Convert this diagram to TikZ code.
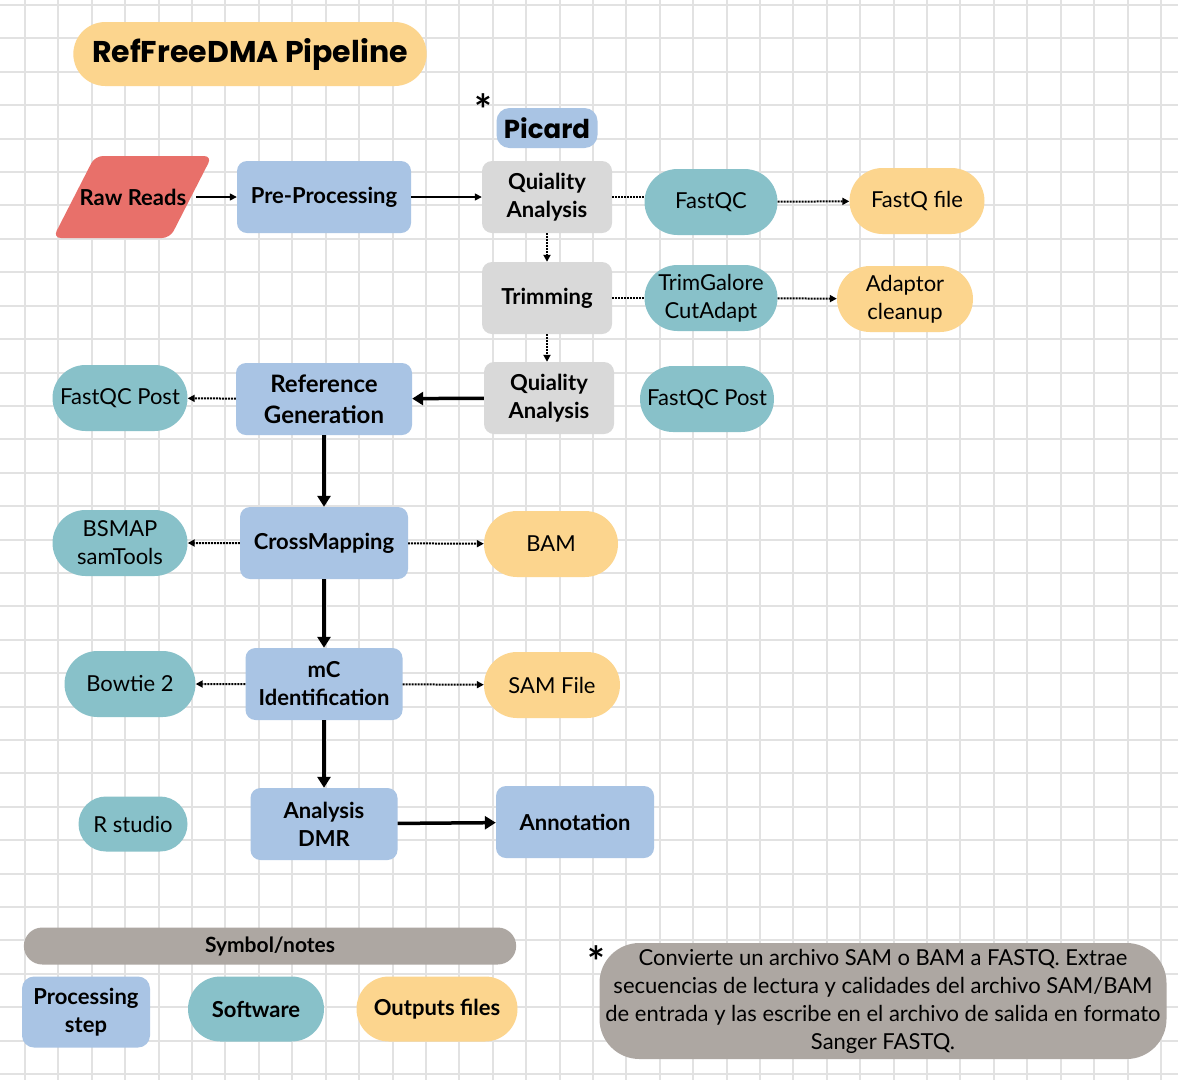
\documentclass[tikz,border=0pt]{standalone}
\usepackage{fontspec}
\setmainfont{Lato}
\newfontfamily\titlefont{Poppins}
\usetikzlibrary{shapes.misc,arrows.meta}

\definecolor{procblue}{HTML}{A9C4E4}
\definecolor{qcgray}{HTML}{D9D9D9}
\definecolor{softteal}{HTML}{88C1C9}
\definecolor{outyellow}{HTML}{FCD58E}
\definecolor{rawred}{HTML}{E8706A}
\definecolor{notegray}{HTML}{ADA7A2}
\definecolor{gridgray}{HTML}{E2E2E2}

\begin{document}
\begin{tikzpicture}[x=1pt,y=-1pt,
    procbox/.style={fill=procblue, rounded corners=10pt, inner sep=0pt, align=center,
        minimum height=72pt, font=\fontsize{22}{28}\selectfont\bfseries},
    qcbox/.style={procbox, fill=qcgray},
    softpill/.style={rounded rectangle, fill=softteal, inner sep=0pt, align=center,
        minimum height=66pt, font=\fontsize{22}{28}\selectfont},
    outpill/.style={softpill, fill=outyellow},
    legtext/.style={font=\fontsize{22}{28}\selectfont\bfseries},
    flow/.style={line width=1.5pt, -{Triangle[length=7pt,width=7pt]}},
    bigflow/.style={line width=3.5pt, -{Triangle[length=11pt,width=13pt]}},
    dotline/.style={densely dotted, line width=2pt},
    dotflow/.style={dotline, -{Triangle[length=7pt,width=7pt]}},
    starmark/.style={font=\fontsize{42}{42}\selectfont\bfseries, inner sep=0pt}]

    \useasboundingbox (0,0) rectangle (1178,1080);
    \fill[white] (0,0) rectangle (1178,1080);
    \foreach \i in {0,...,34}
        \draw[gridgray, line width=2pt] ({25+33.41*\i},0) -- ({25+33.41*\i},1080);
    \foreach \j in {0,...,32}
        \draw[gridgray, line width=2pt] (0,{5+33.41*\j}) -- (1178,{5+33.41*\j});

    % title
    \node (title) [rounded rectangle, fill=outyellow, minimum width=360pt, minimum height=64pt,
        font=\titlefont\fontsize{30}{32}\selectfont\bfseries] at (250,54) {RefFreeDMA Pipeline};

    % main steps
    \fill[rawred, rounded corners=8pt] (53,238) -- (95,156) -- (212,156) -- (170,238) -- cycle;
    \node (raw) [inner sep=0pt, font=\fontsize{22}{28}\selectfont\bfseries] at (133,197) {Raw Reads};
    \node (pre) [procbox, minimum width=174pt] at (324,197) {Pre-Processing};
    \node (star1) [starmark] at (483,110) {*};
    \node (picard) [procbox, minimum width=101pt, minimum height=40pt, rounded corners=13pt,
        font=\titlefont\fontsize{26}{28}\selectfont\bfseries] at (547,128) {Picard};
    \node (qa1) [qcbox, minimum width=130pt] at (547,197) {Quiality\\Analysis};
    \node (trim) [qcbox, minimum width=130pt] at (547,298) {Trimming};
    \node (qa2) [qcbox, minimum width=130pt] at (549,398) {Quiality\\Analysis};
    \node (refgen) [procbox, minimum width=176pt, font=\fontsize{24}{31}\selectfont\bfseries]
        at (324,399) {Reference\\Generation};
    \node (cross) [procbox, minimum width=168pt] at (324,543) {CrossMapping};
    \node (mc) [procbox, minimum width=157pt] at (324,684) {mC\\Identification};
    \node (dmr) [procbox, minimum width=147pt] at (324,824) {Analysis\\DMR};
    \node (annot) [procbox, minimum width=158pt] at (575,822) {Annotation};

    % software and outputs
    \node (fastqc) [softpill, minimum width=133pt] at (711,202) {FastQC};
    \node (fastqfile) [outpill, minimum width=135pt] at (917,201) {FastQ file};
    \node (trimgal) [softpill, minimum width=133pt] at (711,298) {TrimGalore\\CutAdapt};
    \node (adaptor) [outpill, minimum width=136pt] at (905,299) {Adaptor\\cleanup};
    \node (fqpostR) [softpill, minimum width=134pt] at (707,399) {FastQC Post};
    \node (fqpostL) [softpill, minimum width=135pt] at (120,398) {FastQC Post};
    \node (bsmap) [softpill, minimum width=135pt] at (120,543) {BSMAP\\samTools};
    \node (bam) [outpill, minimum width=134pt] at (551,544) {BAM};
    \node (bowtie) [softpill, minimum width=131pt] at (130,684) {Bowtie 2};
    \node (samfile) [outpill, minimum width=136pt] at (552,685) {SAM File};
    \node (rstudio) [softpill, minimum width=109pt, minimum height=55pt] at (133,824) {R studio};

    % connectors
    \draw[flow] (raw.east) ++(10,0) -- (pre.west);
    \draw[flow] (pre) -- (qa1);
    \draw[dotline] (qa1.east) -- (qa1.east -| fastqc.west);
    \draw[dotflow] (fastqc) -- (fastqfile);
    \draw[dotflow] (qa1) -- (trim);
    \draw[dotline] (trim) -- (trimgal);
    \draw[dotflow] (trimgal) -- (adaptor);
    \draw[dotflow] (trim.south) -- (trim.south |- qa2.north);
    \draw[bigflow] (qa2) -- (refgen);
    \draw[dotflow] (refgen) -- (fqpostL);
    \draw[bigflow] (refgen) -- (cross);
    \draw[dotflow] (cross) -- (bsmap);
    \draw[dotflow] (cross) -- (bam);
    \draw[bigflow] (cross) -- (mc);
    \draw[dotflow] (mc) -- (bowtie);
    \draw[dotflow] (mc) -- (samfile);
    \draw[bigflow] (mc) -- (dmr);
    \draw[bigflow] (dmr) -- (annot);

    % legend
    \node (symbols) [rounded rectangle, fill=notegray, minimum width=499pt, minimum height=37pt,
        font=\fontsize{21}{24}\selectfont\bfseries] at (270,946) {Symbol/notes};
    \node (legstep) [procbox, legtext, minimum width=128pt, minimum height=71pt, rounded corners=12pt]
        at (86,1012) {Processing\\step};
    \node (legsoft) [softpill, legtext, minimum width=136pt, minimum height=65pt] at (256,1009) {Software};
    \node (legout) [outpill, legtext, minimum width=161pt, minimum height=65pt] at (437,1009) {Outputs files};

    % note
    \node (star2) [starmark] at (596,962) {*};
    \node (note) [fill=notegray, rounded corners=40pt, minimum width=567pt, minimum height=116pt,
        inner sep=0pt, align=center, font=\fontsize{22}{28}\selectfont] at (883,1001)
        {Convierte un archivo SAM o BAM a FASTQ. Extrae\\
         secuencias de lectura y calidades del archivo SAM/BAM\\
         de entrada y las escribe en el archivo de salida en formato\\
         Sanger FASTQ.};
\end{tikzpicture}
\end{document}
